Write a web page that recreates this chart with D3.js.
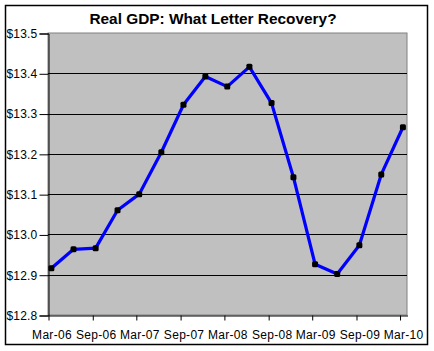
<!DOCTYPE html>
<html>
<head>
<meta charset="utf-8">
<script src="https://cdn.jsdelivr.net/npm/d3@7"></script>
<style>
  html, body { margin: 0; padding: 0; background: #fff; }
  svg { display: block; }
  text { font-family: "Liberation Sans", Arial, sans-serif; fill: #000; }
</style>
</head>
<body>
<svg id="chart" width="434" height="351"></svg>
<script>
// ---- data ----
const title = "Real GDP: What Letter Recovery?";
const quarterDates = [
  "2006-03-15","2006-06-15","2006-09-15","2006-12-15",
  "2007-03-15","2007-06-15","2007-09-15","2007-12-15",
  "2008-03-15","2008-06-15","2008-09-15","2008-12-15",
  "2009-03-15","2009-06-15","2009-09-15","2009-12-15",
  "2010-03-15"
];
const gdpValues = [
  12.916, 12.963, 12.966, 13.060,
  13.100, 13.204, 13.322, 13.392,
  13.367, 13.416, 13.326, 13.142,
  12.926, 12.902, 12.973, 13.149,
  13.266
];
const yTickValues = [12.8, 12.9, 13.0, 13.1, 13.2, 13.3, 13.4, 13.5];
const xTickDates = ["2006-03-01","2006-09-01","2007-03-01","2007-09-01","2008-03-01",
                    "2008-09-01","2009-03-01","2009-09-01","2010-03-01"];
const xTickLabels = ["Mar-06","Sep-06","Mar-07","Sep-07","Mar-08","Sep-08","Mar-09","Sep-09","Mar-10"];
const xDomain = ["2006-03-01", "2010-04-01"];
const yDomain = [12.8, 13.5];

// ---- layout ----
const parse = d3.timeParse("%Y-%m-%d");
const plot = { left: 48, right: 407, top: 33, bottom: 315 };
const svg = d3.select("#chart");

// outer frame
svg.append("rect")
  .attr("x", 5.5).attr("y", 5.5).attr("width", 422).attr("height", 339)
  .attr("fill", "#fff").attr("stroke", "#000").attr("stroke-width", 1.5);

const x = d3.scaleTime().domain(xDomain.map(parse)).range([plot.left, plot.right]);
const y = d3.scaleLinear().domain(yDomain).range([plot.bottom, plot.top]);

// plot background
svg.append("rect")
  .attr("x", plot.left).attr("y", plot.top)
  .attr("width", plot.right - plot.left).attr("height", plot.bottom - plot.top)
  .attr("fill", "#c0c0c0").attr("stroke", "#808080").attr("stroke-width", 1);

// gridlines
svg.append("g").selectAll("line")
  .data(yTickValues.filter(v => v > yDomain[0] && v < yDomain[1]))
  .join("line")
  .attr("x1", plot.left).attr("x2", plot.right)
  .attr("y1", d => Math.round(y(d)) + 0.5).attr("y2", d => Math.round(y(d)) + 0.5)
  .attr("stroke", "#000").attr("stroke-width", 1);

// y axis
const yAxis = d3.axisLeft(y).tickValues(yTickValues)
  .tickFormat(d => "$" + d3.format(".1f")(d)).tickSize(9).tickPadding(2);
const gy = svg.append("g").attr("transform", `translate(${plot.left + 0.5},0.5)`).call(yAxis);
gy.select(".domain").attr("stroke", "#000");
gy.selectAll(".tick line").attr("stroke", "#000");
gy.selectAll("text").attr("font-size", "12px").attr("font-family", "Liberation Sans, Arial, sans-serif")
  .attr("fill", "#000").attr("letter-spacing", "0.2px");

// x axis
const xTicks = xTickDates.map(parse);
const xAxis = d3.axisBottom(x).tickValues(xTicks)
  .tickFormat((d, i) => xTickLabels[i]).tickSize(5).tickSizeOuter(0).tickPadding(10);
const gx = svg.append("g").attr("transform", `translate(0.5,${plot.bottom + 0.5})`).call(xAxis);
gx.select(".domain").attr("stroke", "#000");
gx.selectAll(".tick line").attr("stroke", "#000");
gx.selectAll("text").attr("font-size", "12px").attr("font-family", "Liberation Sans, Arial, sans-serif")
  .attr("fill", "#000").attr("dx", 3).attr("letter-spacing", "0.3px");

// line
const pts = quarterDates.map((d, i) => ({ date: parse(d), value: gdpValues[i] }));
svg.append("path")
  .datum(pts)
  .attr("fill", "none").attr("stroke", "#0000ff").attr("stroke-width", 3.2)
  .attr("stroke-linejoin", "round")
  .attr("d", d3.line().x(d => x(d.date)).y(d => y(d.value)));

// markers
svg.append("g").selectAll("rect")
  .data(pts).join("rect")
  .attr("x", d => x(d.date) - 3).attr("y", d => y(d.value) - 3)
  .attr("width", 6).attr("height", 6).attr("rx", 1.5)
  .attr("fill", "#000");

// title
svg.append("text")
  .attr("x", 213).attr("y", 24)
  .attr("text-anchor", "middle")
  .attr("font-size", "15.4px").attr("font-weight", "bold")
  .text(title);
</script>
</body>
</html>
